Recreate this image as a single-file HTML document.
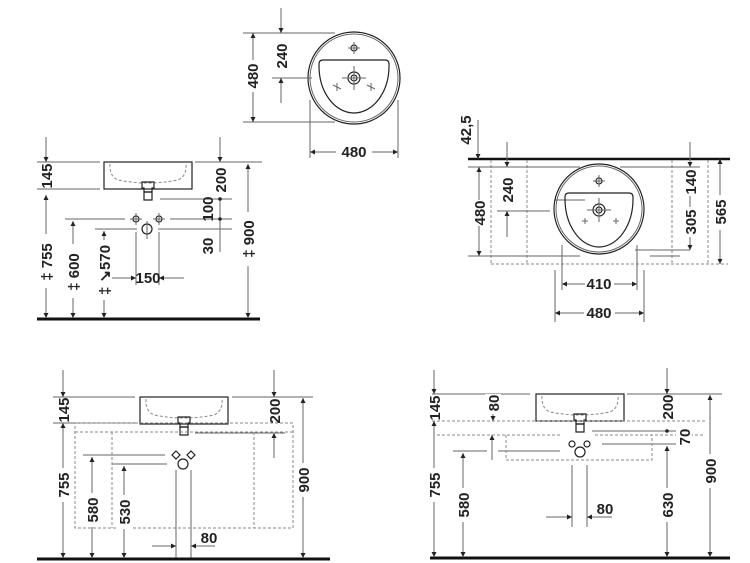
<!DOCTYPE html>
<html><head><meta charset="utf-8"><style>
html,body{margin:0;padding:0;background:#fff}
svg{display:block}
text{font-family:"Liberation Sans Narrow","Liberation Sans",sans-serif;font-weight:bold;font-size:15px;fill:#222}
.l{stroke:#666;stroke-width:1;fill:none}
.k{stroke:#222;stroke-width:1.2;fill:none}
.d{stroke:#888;stroke-width:1;fill:none;stroke-dasharray:3,2}
.f{stroke:#111;stroke-width:3}
</style></head><body>
<svg width="750" height="563" viewBox="0 0 750 563" xmlns="http://www.w3.org/2000/svg">
<defs>
<marker id="a" viewBox="0 0 10 10" refX="10" refY="5" markerWidth="7" markerHeight="5" orient="auto-start-reverse" markerUnits="userSpaceOnUse"><path d="M0,0L10,5L0,10z" fill="#222"/></marker>
<g id="basin">
<rect x="0" y="0" width="88" height="27" class="k"/>
<path d="M6,2 Q5,14 14,18 Q44,24 74,18 Q83,14 82,2" class="d"/>
<path d="M38,20 h12 v6 h-2 v4 h-8 v-4 h-2z" class="k"/>
<path d="M40,30 h8 v8 h-8z" class="k"/>
</g>
<g id="fit">
<circle r="3" class="k"/><path d="M-6,0h12M0,-6v12" class="l"/>
</g>
</defs>

<!-- TOP VIEW -->
<circle cx="354" cy="78" r="46" class="k"/>
<circle cx="354" cy="78" r="44" class="l"/>
<path d="M323,60 H385 Q389,60 389,64 L389,66 A35,47 0 0 1 319,66 L319,64 Q319,60 323,60z" class="k"/>
<use href="#fit" x="354" y="48"/>
<circle cx="354" cy="78" r="6" class="k"/><circle cx="354" cy="78" r="3" class="k"/>
<path d="M342,78h24M354,66v24" class="l"/>
<path d="M333,85l8,4M337,83l0,8M367,85l8,4M371,83l0,8" class="l"/>
<path d="M243,33H335M243,122H335M272,78H312M310,100V158M398,100V158" class="l"/>
<line x1="253" y1="60" x2="253" y2="33" class="l" marker-end="url(#a)"/>
<line x1="253" y1="92" x2="253" y2="122" class="l" marker-end="url(#a)"/>
<text transform="translate(258,76) rotate(-90)" text-anchor="middle">480</text>
<line x1="281" y1="8" x2="281" y2="33" class="l" marker-end="url(#a)"/>
<line x1="281" y1="103" x2="281" y2="78" class="l" marker-end="url(#a)"/>
<text transform="translate(287,56) rotate(-90)" text-anchor="middle">240</text>
<line x1="336" y1="152" x2="310" y2="152" class="l" marker-end="url(#a)"/>
<line x1="372" y1="152" x2="398" y2="152" class="l" marker-end="url(#a)"/>
<text x="354" y="157" text-anchor="middle">480</text>

<!-- SIDE VIEW LEFT -->
<use href="#basin" x="104" y="162"/>
<path d="M37,162H100M195,162H262M37,189H100M160,199H232M65,219H125M170,219H232M95,229H137M158,229H232M136,232V285M159,232V285" class="l"/>
<use href="#fit" x="136" y="219"/><use href="#fit" x="159" y="219"/>
<circle cx="147" cy="229" r="5" class="k"/><path d="M147,221v18" class="l"/>
<line x1="37" y1="319" x2="260" y2="319" class="f"/>
<line x1="46" y1="137" x2="46" y2="162" class="l" marker-end="url(#a)"/>
<line x1="46" y1="195" x2="46" y2="318" class="l" marker-start="url(#a)" marker-end="url(#a)"/>
<rect x="38" y="234" width="16" height="54" fill="#fff"/>
<text transform="translate(52,176) rotate(-90)" text-anchor="middle">145</text>
<text transform="translate(52,262) rotate(-90)" text-anchor="middle">‡ 755</text>
<line x1="73" y1="221" x2="73" y2="318" class="l" marker-start="url(#a)" marker-end="url(#a)"/>
<rect x="65" y="244" width="16" height="54" fill="#fff"/>
<text transform="translate(79,272) rotate(-90)" text-anchor="middle">‡ 600</text>
<line x1="104" y1="231" x2="104" y2="318" class="l" marker-start="url(#a)" marker-end="url(#a)"/>
<rect x="96" y="240" width="16" height="60" fill="#fff"/>
<text transform="translate(110,270) rotate(-90)" text-anchor="middle">‡ ↘570</text>
<line x1="112" y1="278" x2="136" y2="278" class="l" marker-end="url(#a)"/>
<line x1="184" y1="278" x2="159" y2="278" class="l" marker-end="url(#a)"/>
<rect x="137" y="270" width="21" height="14" fill="#fff"/>
<text x="148" y="283" text-anchor="middle">150</text>
<line x1="220" y1="137" x2="220" y2="162" class="l" marker-end="url(#a)"/>
<text transform="translate(226,180) rotate(-90)" text-anchor="middle">200</text>
<line x1="220" y1="199" x2="220" y2="252" class="l"/>
<circle cx="220" cy="199" r="1.8" fill="#222"/><circle cx="220" cy="219" r="1.8" fill="#222"/>
<text transform="translate(213,209) rotate(-90)" text-anchor="middle">100</text>
<text transform="translate(213,246) rotate(-90)" text-anchor="middle">30</text>
<line x1="248" y1="164" x2="248" y2="318" class="l" marker-start="url(#a)" marker-end="url(#a)"/>
<rect x="240" y="212" width="16" height="54" fill="#fff"/>
<text transform="translate(254,239) rotate(-90)" text-anchor="middle">‡ 900</text>

<!-- TOP RIGHT PLAN -->
<line x1="468" y1="159" x2="730" y2="159" class="f" style="stroke-width:2.5"/>
<path d="M491,160V264M527,160V264M672,160V264M708,160V264M491,264H728" class="d"/>
<path d="M468,167H580M620,167H700M468,256H580M650,256H680M555,200H585M635,250H690M555,270V322M644,270V322M562,245V290M637,245V290M497,211H550" class="l"/>
<circle cx="599" cy="209" r="45" class="k"/>
<circle cx="599" cy="209" r="43" class="l"/>
<path d="M569,193 H629 Q633,193 633,197 L633,199 A34,48 0 0 1 565,199 L565,197 Q565,193 569,193z" class="k"/>
<use href="#fit" x="599" y="181"/>
<circle cx="599" cy="210" r="6" class="k"/><circle cx="599" cy="210" r="3" class="k"/>
<path d="M587,210h24M599,198v24M582,221h6M585,218v6M613,221h6M616,218v6" class="l"/>
<line x1="478" y1="120" x2="478" y2="159" class="l" marker-end="url(#a)"/>
<text transform="translate(471,130) rotate(-90)" text-anchor="middle">42,5</text>
<line x1="479" y1="200" x2="479" y2="167" class="l" marker-end="url(#a)"/>
<line x1="479" y1="226" x2="479" y2="256" class="l" marker-end="url(#a)"/>
<text transform="translate(485,213) rotate(-90)" text-anchor="middle">480</text>
<line x1="507" y1="142" x2="507" y2="167" class="l" marker-end="url(#a)"/>
<line x1="507" y1="237" x2="507" y2="211" class="l" marker-end="url(#a)"/>
<text transform="translate(513,190) rotate(-90)" text-anchor="middle">240</text>
<line x1="690" y1="142" x2="690" y2="167" class="l" marker-end="url(#a)"/>
<line x1="690" y1="196" x2="690" y2="250" class="l" marker-end="url(#a)"/>
<rect x="682" y="168" width="16" height="26" fill="#fff"/>
<text transform="translate(696,182) rotate(-90)" text-anchor="middle">140</text>
<rect x="682" y="207" width="16" height="30" fill="#fff"/>
<text transform="translate(696,222) rotate(-90)" text-anchor="middle">305</text>
<line x1="720" y1="195" x2="720" y2="159" class="l" marker-end="url(#a)"/>
<line x1="720" y1="230" x2="720" y2="264" class="l" marker-end="url(#a)"/>
<text transform="translate(726,212) rotate(-90)" text-anchor="middle">565</text>
<line x1="585" y1="284" x2="562" y2="284" class="l" marker-end="url(#a)"/>
<line x1="614" y1="284" x2="637" y2="284" class="l" marker-end="url(#a)"/>
<text x="599" y="289" text-anchor="middle">410</text>
<line x1="584" y1="313" x2="555" y2="313" class="l" marker-end="url(#a)"/>
<line x1="615" y1="313" x2="644" y2="313" class="l" marker-end="url(#a)"/>
<text x="599" y="318" text-anchor="middle">480</text>

<!-- BOTTOM LEFT -->
<use href="#basin" x="140" y="397"/>
<path d="M53,397H135M232,397H313M53,423H138M83,455H165M112,464H167M176,470V560M191,470V560M195,433H285" class="l"/>
<path d="M75,423H293V528H75z M112,432V528M254,432V528M75,432H293" class="d"/>
<g transform="translate(176,455)"><path d="M0,-4l4,4l-4,4l-4,-4z" class="k"/></g>
<g transform="translate(191,455)"><path d="M0,-4l4,4l-4,4l-4,-4z" class="k"/></g>
<circle cx="183" cy="464" r="5" class="k"/>
<line x1="37" y1="559" x2="330" y2="559" class="f"/>
<line x1="63" y1="370" x2="63" y2="397" class="l" marker-end="url(#a)"/>
<text transform="translate(69,410) rotate(-90)" text-anchor="middle">145</text>
<line x1="63" y1="423" x2="63" y2="558" class="l" marker-start="url(#a)" marker-end="url(#a)"/>
<rect x="55" y="468" width="16" height="34" fill="#fff"/>
<text transform="translate(69,485) rotate(-90)" text-anchor="middle">755</text>
<line x1="92" y1="457" x2="92" y2="558" class="l" marker-start="url(#a)" marker-end="url(#a)"/>
<rect x="84" y="493" width="16" height="34" fill="#fff"/>
<text transform="translate(98,510) rotate(-90)" text-anchor="middle">580</text>
<line x1="124" y1="466" x2="124" y2="558" class="l" marker-start="url(#a)" marker-end="url(#a)"/>
<rect x="116" y="495" width="16" height="34" fill="#fff"/>
<text transform="translate(130,512) rotate(-90)" text-anchor="middle">530</text>
<line x1="274" y1="370" x2="274" y2="397" class="l" marker-end="url(#a)"/>
<text transform="translate(280,411) rotate(-90)" text-anchor="middle">200</text>
<line x1="274" y1="458" x2="274" y2="433" class="l" marker-end="url(#a)"/>
<line x1="303" y1="398" x2="303" y2="558" class="l" marker-start="url(#a)" marker-end="url(#a)"/>
<rect x="295" y="463" width="16" height="34" fill="#fff"/>
<text transform="translate(309,480) rotate(-90)" text-anchor="middle">900</text>
<line x1="152" y1="546" x2="176" y2="546" class="l" marker-end="url(#a)"/>
<line x1="215" y1="546" x2="191" y2="546" class="l" marker-end="url(#a)"/>
<text x="209" y="543" text-anchor="middle">80</text>

<!-- BOTTOM RIGHT -->
<use href="#basin" x="536" y="394"/>
<path d="M432,394H530M627,394H722M592,431H680M602,444H680M453,451H487M498,451H560M572,465V527M587,465V527" class="l"/>
<path d="M432,421H705M437,435H560M595,435H705M506,435V460H652V435" class="d"/>
<g transform="translate(572,444)"><circle r="3" class="k"/></g>
<g transform="translate(587,444)"><circle r="3" class="k"/></g>
<circle cx="580" cy="452" r="5" class="k"/>
<line x1="430" y1="558" x2="730" y2="558" class="f"/>
<line x1="434" y1="370" x2="434" y2="394" class="l" marker-end="url(#a)"/>
<text transform="translate(440,408) rotate(-90)" text-anchor="middle">145</text>
<line x1="434" y1="421" x2="434" y2="557" class="l" marker-start="url(#a)" marker-end="url(#a)"/>
<rect x="426" y="468" width="16" height="34" fill="#fff"/>
<text transform="translate(440,485) rotate(-90)" text-anchor="middle">755</text>
<line x1="493" y1="394" x2="493" y2="421" class="l" marker-end="url(#a)"/>
<rect x="485" y="394" width="16" height="20" fill="#fff"/>
<text transform="translate(499,403) rotate(-90)" text-anchor="middle">80</text>
<line x1="492" y1="460" x2="492" y2="435" class="l" marker-end="url(#a)"/>
<line x1="463" y1="453" x2="463" y2="557" class="l" marker-start="url(#a)" marker-end="url(#a)"/>
<rect x="455" y="488" width="16" height="34" fill="#fff"/>
<text transform="translate(469,505) rotate(-90)" text-anchor="middle">580</text>
<line x1="667" y1="368" x2="667" y2="394" class="l" marker-end="url(#a)"/>
<text transform="translate(673,407) rotate(-90)" text-anchor="middle">200</text>
<circle cx="667" cy="431" r="1.8" fill="#222"/>
<rect x="676" y="426" width="16" height="22" fill="#fff"/>
<text transform="translate(690,437) rotate(-90)" text-anchor="middle">70</text>
<line x1="667" y1="446" x2="667" y2="557" class="l" marker-start="url(#a)" marker-end="url(#a)"/>
<rect x="659" y="488" width="16" height="34" fill="#fff"/>
<text transform="translate(673,505) rotate(-90)" text-anchor="middle">630</text>
<line x1="710" y1="395" x2="710" y2="557" class="l" marker-start="url(#a)" marker-end="url(#a)"/>
<rect x="702" y="454" width="16" height="34" fill="#fff"/>
<text transform="translate(716,471) rotate(-90)" text-anchor="middle">900</text>
<line x1="546" y1="517" x2="572" y2="517" class="l" marker-end="url(#a)"/>
<line x1="612" y1="517" x2="587" y2="517" class="l" marker-end="url(#a)"/>
<text x="605" y="514" text-anchor="middle">80</text>
</svg>
</body></html>
